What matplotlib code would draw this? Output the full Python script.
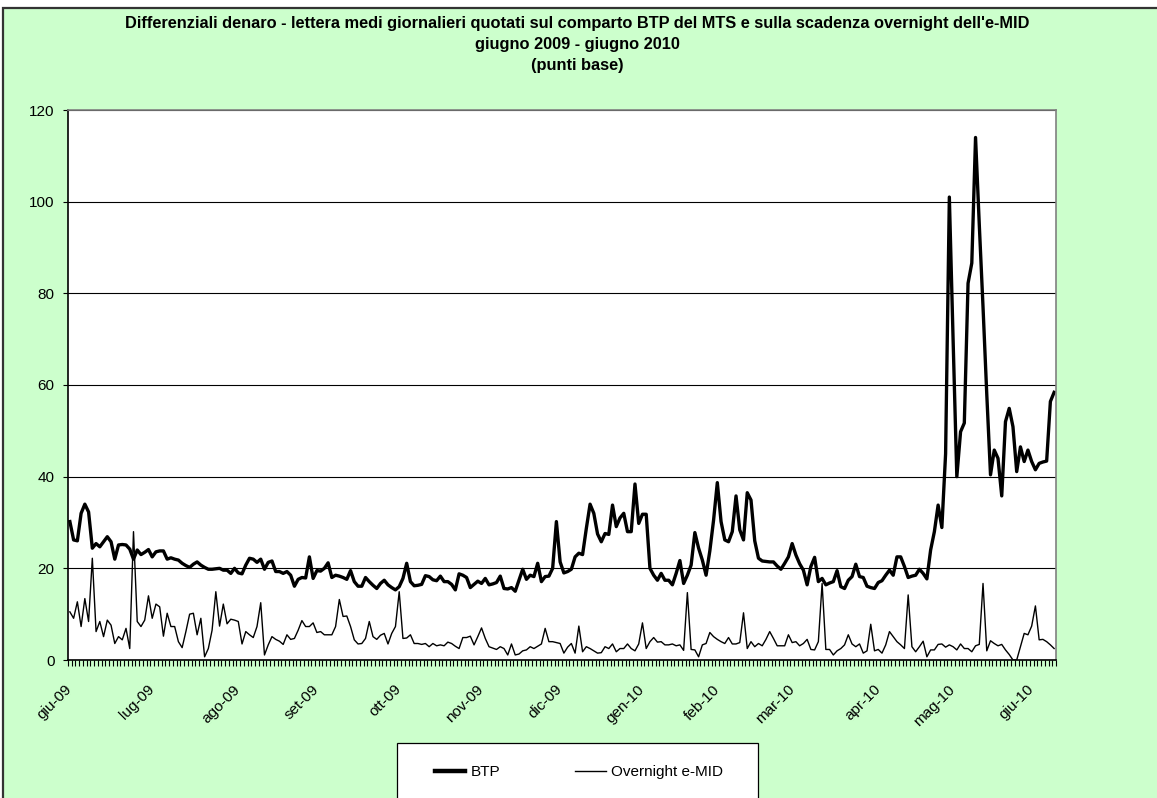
import matplotlib as mpl
mpl.use('Agg')
import matplotlib.pyplot as plt
import matplotlib.transforms as mtransforms
from matplotlib.patches import Rectangle
from matplotlib.lines import Line2D
import pandas as pd
import numpy as np

plt.rcParams['font.family'] = ['Liberation Sans', 'DejaVu Sans']

# daily spreads (basis points), one row per month, giu-09 ... giu-10
btp = [
    30.2, 26.2, 26.0, 32.0, 34.0, 32.3, 24.4, 25.4, 24.7, 25.8, 26.9, 25.8, 22.0, 25.1, 25.2, 25.1, 24.2, 22.0, 24.0, 23.0, 23.5, 24.1,
    22.5, 23.6, 23.8, 23.8, 22.0, 22.3, 22.0, 21.8, 21.1, 20.6, 20.2, 20.9, 21.4, 20.7, 20.2, 19.8, 19.8, 19.9, 20.0, 19.6, 19.6, 18.9, 20.0,
    19.0, 18.8, 20.7, 22.2, 22.0, 21.3, 22.0, 19.8, 21.3, 21.6, 19.3, 19.3, 18.9, 19.3, 18.5, 16.1, 17.6, 18.0, 17.9, 22.5, 17.8,
    19.5, 19.4, 20.0, 21.2, 18.0, 18.5, 18.3, 18.0, 17.6, 19.5, 17.1, 16.1, 16.1, 18.0, 17.1, 16.3, 15.6, 16.7, 17.4, 16.4, 15.8, 15.3,
    16.0, 17.8, 21.1, 17.1, 16.2, 16.3, 16.5, 18.4, 18.2, 17.5, 17.3, 18.3, 17.1, 17.1, 16.5, 15.3, 18.8, 18.5, 18.0, 15.8, 16.5, 17.2,
    16.7, 17.8, 16.4, 16.6, 16.9, 18.3, 15.6, 15.5, 15.8, 15.0, 17.4, 19.8, 17.6, 18.5, 18.2, 21.1, 17.1, 18.2, 18.3, 20.0, 30.2,
    21.4, 19.0, 19.3, 19.8, 22.5, 23.3, 23.0, 28.7, 34.0, 32.0, 27.5, 25.8, 27.6, 27.4, 33.8, 29.1, 31.0, 32.0, 28.0, 28.0, 38.4, 29.8,
    31.8, 31.8, 20.0, 18.5, 17.4, 18.9, 17.4, 17.4, 16.4, 18.9, 21.7, 16.7, 18.5, 20.7, 27.8, 24.4, 21.8, 18.5, 23.8, 30.5,
    38.7, 30.2, 26.2, 25.8, 28.0, 35.8, 28.4, 26.2, 36.5, 34.9, 26.0, 22.2, 21.6, 21.5, 21.4, 21.4, 20.5, 19.8, 21.1, 22.5,
    25.4, 22.9, 21.0, 19.6, 16.4, 20.4, 22.4, 17.1, 17.8, 16.4, 16.8, 17.1, 19.5, 16.0, 15.6, 17.4, 18.2, 20.9, 18.2, 18.0, 16.1, 15.8, 15.6,
    16.9, 17.3, 18.5, 19.6, 18.5, 22.5, 22.5, 20.4, 18.0, 18.3, 18.5, 19.8, 18.9, 17.7, 24.0, 28.0, 33.8, 28.9, 45.0, 101.0,
    70.0, 40.0, 49.8, 51.7, 82.2, 86.6, 114.0, 95.0, 77.0, 58.0, 40.4, 45.8, 44.0, 35.8, 52.0, 54.9, 50.9, 41.1, 46.5, 43.3, 45.8,
    43.3, 41.5, 42.9, 43.2, 43.4, 56.4, 58.4,
]

overnight = [
    10.5, 9.1, 12.7, 7.3, 13.4, 8.4, 22.2, 6.2, 8.4, 5.1, 8.7, 7.6, 3.6, 5.1, 4.4, 6.9, 2.5, 28.0, 8.4, 7.3, 8.7, 14.0,
    9.1, 12.2, 11.6, 5.2, 10.2, 7.3, 7.3, 4.0, 2.7, 6.2, 10.0, 10.2, 5.5, 9.1, 0.7, 2.5, 6.5, 14.9, 7.4, 12.2, 7.9, 8.9, 8.7,
    8.4, 3.5, 6.2, 5.5, 4.9, 7.3, 12.5, 1.1, 3.3, 5.1, 4.5, 4.1, 3.4, 5.5, 4.5, 4.7, 6.5, 8.6, 7.3, 7.3, 8.1,
    6.0, 6.2, 5.5, 5.5, 5.5, 7.3, 13.2, 9.5, 9.6, 7.3, 4.4, 3.5, 3.6, 4.7, 8.4, 5.1, 4.5, 5.4, 5.8, 3.5, 5.8, 7.3,
    14.9, 4.7, 4.8, 5.5, 3.6, 3.6, 3.4, 3.6, 2.9, 3.6, 3.1, 3.3, 3.1, 3.9, 3.6, 3.0, 2.5, 4.9, 4.9, 5.2, 3.3, 5.1,
    7.0, 4.7, 2.9, 2.6, 2.3, 2.9, 2.5, 1.1, 3.5, 1.1, 1.3, 2.0, 2.2, 2.9, 2.5, 3.0, 3.5, 6.9, 4.0, 4.0, 3.8,
    3.6, 1.5, 2.8, 3.6, 1.5, 7.4, 1.8, 2.9, 2.5, 2.0, 1.5, 1.6, 2.9, 2.5, 3.5, 1.8, 2.5, 2.5, 3.5, 2.5, 2.0, 3.5,
    8.1, 2.5, 4.0, 4.9, 3.9, 4.0, 3.3, 3.3, 3.5, 3.1, 3.3, 2.1, 14.7, 2.3, 2.2, 0.7, 3.3, 3.6, 6.0, 5.1,
    4.5, 4.0, 3.6, 4.9, 3.5, 3.5, 3.8, 10.3, 2.5, 4.0, 2.9, 3.6, 3.1, 4.5, 6.2, 4.7, 3.1, 3.1, 3.1, 5.5,
    3.8, 4.0, 3.1, 3.6, 4.5, 2.3, 2.2, 4.0, 16.7, 2.3, 2.3, 1.1, 2.0, 2.5, 3.3, 5.5, 3.5, 2.9, 3.5, 1.5, 2.0, 7.8, 2.0,
    2.3, 1.5, 3.3, 6.2, 5.1, 4.0, 3.3, 2.5, 14.2, 2.9, 1.8, 2.9, 4.1, 0.7, 2.2, 2.2, 3.4, 3.5, 2.8, 3.3,
    2.9, 2.2, 3.5, 2.5, 2.5, 1.8, 3.1, 3.4, 16.7, 2.0, 4.2, 3.6, 3.1, 3.4, 2.2, 1.2, 0.0, 0.0, 2.9, 5.8, 5.5,
    7.4, 11.8, 4.4, 4.5, 4.0, 3.3, 2.5,
]

month_labels = ['giu-09', 'lug-09', 'ago-09', 'set-09', 'ott-09', 'nov-09', 'dic-09',
                'gen-10', 'feb-10', 'mar-10', 'apr-10', 'mag-10', 'giu-10']
holidays = ['2009-12-25', '2010-01-01', '2010-04-02', '2010-04-05']

# trading days (TARGET calendar)
dates = pd.bdate_range('2009-06-01', '2010-06-09', freq='C', holidays=holidays)
df = pd.DataFrame({'BTP': btp, 'Overnight e-MID': overnight}, index=dates)
pos = np.arange(len(df))
month_start = pos[~df.index.to_period('M').duplicated()]

W, H = 1157, 798
fig = plt.figure(figsize=(W / 100, H / 100), dpi=100)
fig.patch.set_facecolor('white')
# green chart area with dark frame (cut on right/bottom like the original)
fig.patches.append(Rectangle((3 / W, -0.05), 1.1, (H - 8) / H + 0.05, transform=fig.transFigure,
                             facecolor='#CCFFCC', edgecolor='#333333', lw=1.6, zorder=-2))

ax = fig.add_axes([68 / W, 1 - 660 / H, (1056 - 68) / W, (660 - 110) / H])
ax.set_facecolor('white')

ax.plot(pos, df['BTP'], color='black', lw=2.4, solid_joinstyle='round', label='BTP')
ax.plot(pos, df['Overnight e-MID'], color='black', lw=1.0, label='Overnight e-MID')

ax.set_xlim(-0.5, len(df) - 0.5)
ax.set_ylim(0, 120)
ax.set_yticks(np.arange(0, 121, 20))
ax.yaxis.grid(True, color='black', lw=0.8)
ax.set_axisbelow(True)

ax.set_xticks(month_start)
ax.set_xticklabels(month_labels)
ax.set_xticks(np.arange(len(df) + 1) - 0.5, minor=True)
ax.tick_params(axis='x', which='major', length=0, pad=16, labelsize=11, labelrotation=45)
ax.tick_params(axis='x', which='minor', length=4, width=0.8, direction='out')
ax.tick_params(axis='y', length=3.6, width=0.8, pad=6, labelsize=11)
shift = mtransforms.ScaledTranslation(-5 / 100, 0, fig.dpi_scale_trans)
for lab in ax.get_xticklabels():
    lab.set_ha('right')
    lab.set_va('top')
    lab.set_rotation_mode('anchor')
    lab.set_transform(lab.get_transform() + shift)

for s in ['top', 'right']:
    ax.spines[s].set_color('#808080')
    ax.spines[s].set_linewidth(1.2)
for s in ['left', 'bottom']:
    ax.spines[s].set_color('black')
    ax.spines[s].set_linewidth(1.2)

fig.text(577 / W, 1 - 16 / H,
         "Differenziali denaro - lettera medi giornalieri quotati sul comparto BTP del MTS e sulla scadenza overnight dell'e-MID\n"
         "giugno 2009 - giugno 2010\n(punti base)",
         ha='center', va='top', fontsize=11.8, fontweight='bold', linespacing=1.5)

# legend box (runs past the bottom edge)
fig.patches.append(Rectangle((397 / W, -0.02), (758 - 397) / W, (798 - 743) / H + 0.02,
                             transform=fig.transFigure, facecolor='white', edgecolor='black',
                             lw=0.9, zorder=1))
handles = [Line2D([], [], color='black', lw=3.2), Line2D([], [], color='black', lw=1.0)]
fig.legend(handles, ['BTP', 'Overnight e-MID'], loc='center left',
           bbox_to_anchor=(427 / W, 1 - 772 / H), ncol=2, frameon=False, fontsize=11,
           handlelength=2.0, handletextpad=0.35, columnspacing=4.9, borderpad=0)

fig.savefig('out.png', dpi=100)
